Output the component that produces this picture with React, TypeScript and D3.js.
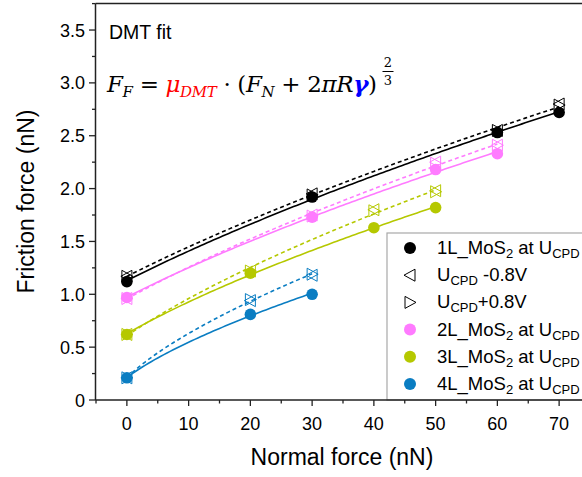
import React from 'react';
import * as d3 from 'd3';

const W = 582;
const H = 477;

const xTicks = [0, 10, 20, 30, 40, 50, 60, 70];
const xMinor = [-5, 5, 15, 25, 35, 45, 55, 65, 75];
const yTicks = [0, 0.5, 1.0, 1.5, 2.0, 2.5, 3.0, 3.5];
const yTickLabels = ['0', '0.5', '1.0', '1.5', '2.0', '2.5', '3.0', '3.5'];
const yMinor = [0.25, 0.75, 1.25, 1.75, 2.25, 2.75, 3.25, 3.75];

const layers = ['1L', '2L', '3L', '4L'];
const colors = ['#000000', '#ff7bff', '#b5c800', '#0a7dc2'];

// normal force (nN)
const fn1L = [0, 30, 60, 70];
const fn2L = [0, 30, 50, 60];
const fn3L = [0, 20, 40, 50];
const fn4L = [0, 20, 30];
// friction at U_CPD
const ff1L = [1.12, 1.92, 2.53, 2.72];
const ff2L = [0.97, 1.73, 2.18, 2.33];
const ff3L = [0.62, 1.2, 1.63, 1.82];
const ff4L = [0.21, 0.81, 1.0];
// friction at U_CPD -0.8V
const ffNeg1L = [1.17, 1.95, 2.55, 2.8];
const ffNeg2L = [0.96, 1.75, 2.25, 2.41];
const ffNeg3L = [0.62, 1.22, 1.8, 1.98];
const ffNeg4L = [0.21, 0.94, 1.18];
// friction at U_CPD +0.8V
const ffPos1L = [1.17, 1.94, 2.55, 2.79];
const ffPos2L = [0.96, 1.74, 2.24, 2.41];
const ffPos3L = [0.62, 1.22, 1.79, 1.97];
const ffPos4L = [0.21, 0.95, 1.19];

const fnAll = [fn1L, fn2L, fn3L, fn4L];
const ffAll = [ff1L, ff2L, ff3L, ff4L];
const ffNegAll = [ffNeg1L, ffNeg2L, ffNeg3L, ffNeg4L];
const ffPosAll = [ffPos1L, ffPos2L, ffPos3L, ffPos4L];

// DMT least-squares fit of F = mu * (FN + c)^(2/3)
function fitDMT(xs: number[], ys: number[]) {
  let best = { mu: 0, c: 1, sse: Infinity };
  for (let c = 0.2; c <= 300; c += 0.2) {
    const g = xs.map((x) => Math.pow(x + c, 2 / 3));
    const mu = d3.sum(g, (v, i) => v * ys[i]) / d3.sum(g, (v) => v * v);
    const sse = d3.sum(g, (v, i) => (mu * v - ys[i]) ** 2);
    if (sse < best.sse) best = { mu, c, sse };
  }
  return best;
}

const M = { left: 95.5, top: 3.5, bottom: 400 };
const x = d3.scaleLinear().domain([-5, 75]).range([96, 590]);
const y = d3.scaleLinear().domain([0, 3.75]).range([400, 3.6]);

const triLeft = 'M -6 0 L 5 -6 L 5 6 Z';
const triRight = 'M 6 0 L -5 -6 L -5 6 Z';

const FONT = '"Liberation Sans", Arial, sans-serif';
const SERIF = '"DejaVu Serif", "Liberation Serif", serif';

function curvePath(xs: number[], ys: number[]) {
  const f = fitDMT(xs, ys);
  const xmax = d3.max(xs) as number;
  const pts = d3.range(0, xmax + 0.001, 0.5).map((v) => [v, f.mu * Math.pow(v + f.c, 2 / 3)]);
  return d3
    .line<number[]>()
    .x((d) => x(d[0]))
    .y((d) => y(d[1]))(pts) as string;
}

const LFS = 18.5;
const LSUB = 13;

function LegendLabel({ tx, ty, layer }: { tx: number; ty: number; layer: string }) {
  return (
    <text x={tx} y={ty} fontSize={LFS} fontFamily={FONT} fill="#000">
      {layer}_MoS
      <tspan fontSize={LSUB} dy={4}>2</tspan>
      <tspan dy={-4}> at U</tspan>
      <tspan fontSize={LSUB} dy={4}>CPD</tspan>
    </text>
  );
}

export default function App() {
  const legendX = 387;
  const legendY = 233;
  const rowH = 27.2;
  const markX = 410;
  const textX = 437;

  return (
    <svg width={W} height={H} style={{ position: 'absolute', left: 0, top: 0, background: '#fff' }}>
      <rect x={0} y={0} width={W} height={H} fill="#fff" />

      {/* legend box */}
      <rect x={legendX} y={legendY} width={260} height={400 - legendY} fill="#fff" stroke="#a8a8a8" strokeWidth={1.2} />

      {/* fit curves and markers */}
      {layers.map((l, i) => {
        const xs = fnAll[i];
        const avgTri = xs.map((_, j) => (ffNegAll[i][j] + ffPosAll[i][j]) / 2);
        return (
          <g key={l}>
            <path d={curvePath(xs, avgTri)} fill="none" stroke={colors[i]} strokeWidth={1.6} strokeDasharray="4,3" />
            <path d={curvePath(xs, ffAll[i])} fill="none" stroke={colors[i]} strokeWidth={1.6} />
            {xs.map((v, j) => (
              <circle key={'c' + j} cx={x(v)} cy={y(ffAll[i][j])} r={5.8} fill={colors[i]} />
            ))}
            {xs.map((v, j) => (
              <path key={'n' + j} d={triLeft} transform={`translate(${x(v)},${y(ffNegAll[i][j])})`} fill="none" stroke={colors[i]} strokeWidth={1} />
            ))}
            {xs.map((v, j) => (
              <path key={'p' + j} d={triRight} transform={`translate(${x(v)},${y(ffPosAll[i][j])})`} fill="none" stroke={colors[i]} strokeWidth={1} />
            ))}
          </g>
        );
      })}

      {/* frame */}
      <line x1={M.left} x2={600} y1={M.top} y2={M.top} stroke="#222" strokeWidth={1.5} />
      <line x1={M.left} x2={M.left} y1={M.top} y2={M.bottom} stroke="#222" strokeWidth={1.5} />
      <line x1={M.left} x2={600} y1={M.bottom} y2={M.bottom} stroke="#222" strokeWidth={1.5} />

      {/* x ticks */}
      {xTicks.map((t) => (
        <g key={'xt' + t}>
          <line x1={x(t)} x2={x(t)} y1={400} y2={406} stroke="#222" strokeWidth={1.3} />
          <text x={x(t)} y={430} textAnchor="middle" fontSize={18} fontFamily={FONT} fill="#000">
            {t}
          </text>
        </g>
      ))}
      {xMinor.map((t) => (
        <line key={'xm' + t} x1={x(t)} x2={x(t)} y1={400} y2={403.5} stroke="#222" strokeWidth={1.3} />
      ))}

      {/* y ticks */}
      {yTicks.map((t, i) => (
        <g key={'yt' + t}>
          <line x1={89} x2={M.left} y1={y(t)} y2={y(t)} stroke="#222" strokeWidth={1.3} />
          <text x={85} y={y(t) + 6.5} textAnchor="end" fontSize={18} fontFamily={FONT} fill="#000">
            {yTickLabels[i]}
          </text>
        </g>
      ))}
      {yMinor.map((t) => (
        <line key={'ym' + t} x1={92} x2={M.left} y1={y(t)} y2={y(t)} stroke="#222" strokeWidth={1.3} />
      ))}

      {/* axis titles */}
      <text x={342} y={465} textAnchor="middle" fontSize={23} fontFamily={FONT} fill="#000">
        Normal force (nN)
      </text>
      <text
        transform={`translate(34,${(400 + 3) / 2}) rotate(-90)`}
        textAnchor="middle"
        fontSize={23}
        fontFamily={FONT}
        fill="#000"
      >
        Friction force (nN)
      </text>

      {/* annotation */}
      <text x={109} y={39} fontSize={19.5} fontFamily={FONT} fill="#000">
        DMT fit
      </text>
      <text x={107} y={92} fontSize={23} fontFamily={SERIF} fill="#000" textLength={270} lengthAdjust="spacing">
        <tspan fontStyle="italic">F</tspan>
        <tspan fontStyle="italic" fontSize={15} dy={5}>F</tspan>
        <tspan dy={-5}>{' = '}</tspan>
        <tspan fontStyle="italic" fill="#ff0000">μ</tspan>
        <tspan fontStyle="italic" fill="#ff0000" fontSize={15} dy={5}>DMT</tspan>
        <tspan dy={-5}>{' · ('}</tspan>
        <tspan fontStyle="italic">F</tspan>
        <tspan fontStyle="italic" fontSize={15} dy={5}>N</tspan>
        <tspan dy={-5}>{' + 2'}</tspan>
        <tspan fontStyle="italic">πR</tspan>
        <tspan fontStyle="italic" fontWeight="bold" fill="#0000ff">γ</tspan>
        <tspan>)</tspan>
      </text>
      <g fontFamily={SERIF} fontSize={13} fill="#000">
        <text x={388} y={67} textAnchor="middle">2</text>
        <line x1={382.5} x2={393.5} y1={71.5} y2={71.5} stroke="#000" strokeWidth={1} />
        <text x={388} y={85} textAnchor="middle">3</text>
      </g>

      {/* legend entries */}
      <circle cx={markX} cy={legendY + 15} r={6} fill={colors[0]} />
      <LegendLabel tx={textX} ty={legendY + 21} layer="1L" />

      <path d={triLeft} transform={`translate(${markX},${legendY + 15 + rowH})`} fill="none" stroke="#000" strokeWidth={1} />
      <text x={textX} y={legendY + 21 + rowH} fontSize={LFS} fontFamily={FONT}>
        U<tspan fontSize={LSUB} dy={4}>CPD</tspan>
        <tspan dy={-4}> -0.8V</tspan>
      </text>

      <path d={triRight} transform={`translate(${markX},${legendY + 15 + rowH * 2})`} fill="none" stroke="#000" strokeWidth={1} />
      <text x={textX} y={legendY + 21 + rowH * 2} fontSize={LFS} fontFamily={FONT}>
        U<tspan fontSize={LSUB} dy={4}>CPD</tspan>
        <tspan dy={-4}>+0.8V</tspan>
      </text>

      {[1, 2, 3].map((i) => (
        <g key={'lg' + i}>
          <circle cx={markX} cy={legendY + 15 + rowH * (i + 2)} r={6} fill={colors[i]} />
          <LegendLabel tx={textX} ty={legendY + 21 + rowH * (i + 2)} layer={layers[i]} />
        </g>
      ))}
    </svg>
  );
}
